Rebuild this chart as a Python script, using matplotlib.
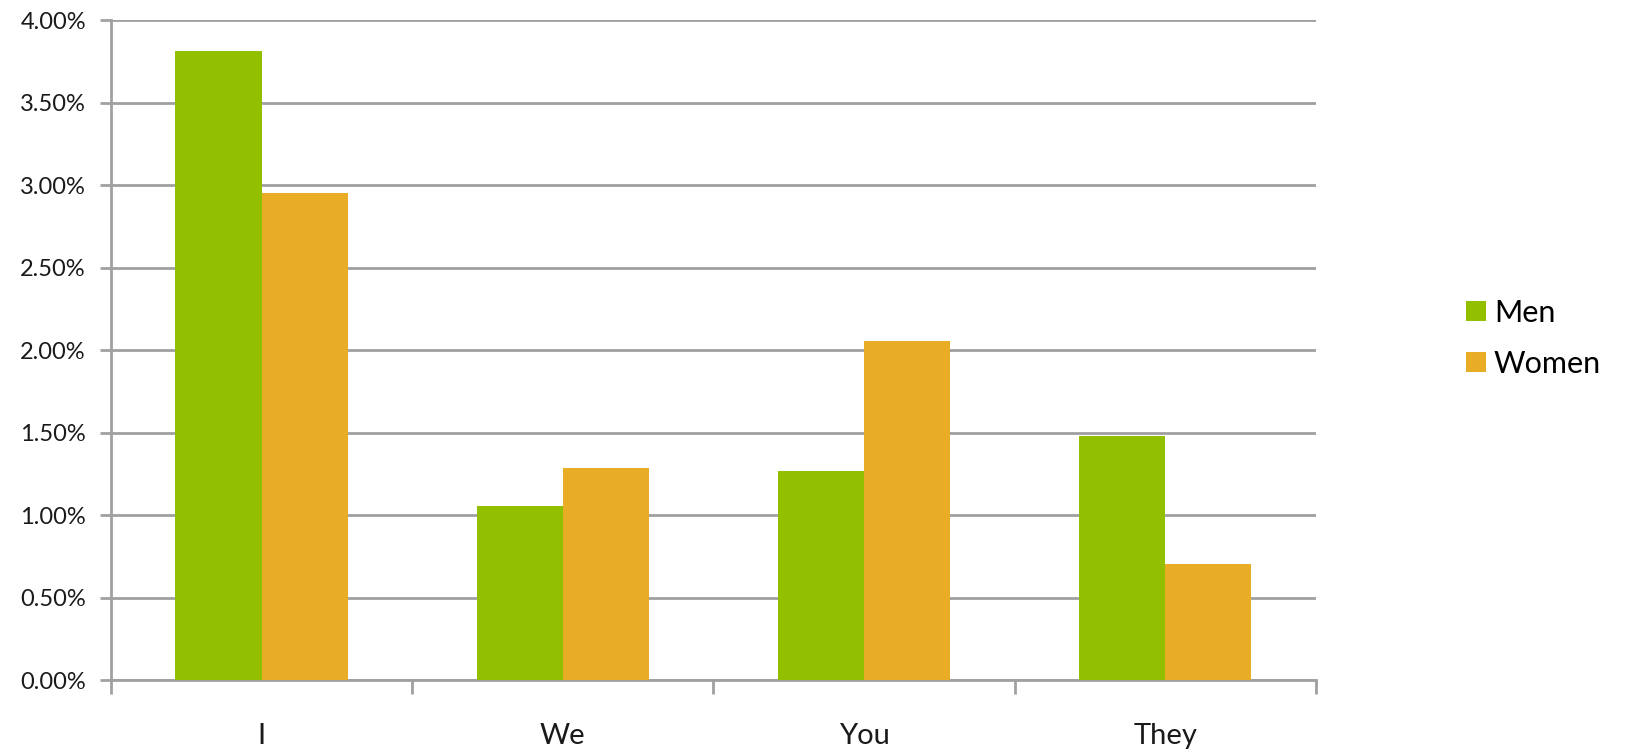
import numpy as np
import matplotlib
matplotlib.use("Agg")
import matplotlib.pyplot as plt
from matplotlib.ticker import FixedLocator

# data (percent)
pronouns = ["I", "We", "You", "They"]
men = [3.81, 1.056, 1.269, 1.481]
women = [2.95, 1.283, 2.055, 0.703]
yticks = [0, 0.5, 1.0, 1.5, 2.0, 2.5, 3.0, 3.5, 4.0]

green = "#92bf00"
orange = "#e8ad24"
grey = "#a0a0a0"

plt.rcParams['font.family'] = ['Lato', 'DejaVu Sans']

fig = plt.figure(figsize=(16.25, 7.5), dpi=100)
ax = fig.add_axes([0.0683, 0.0933, 0.7415, 0.88])

x = np.arange(len(pronouns))
w = 0.286
ax.bar(x - w/2, men, w, color=green, label="Men", zorder=3)
ax.bar(x + w/2, women, w, color=orange, label="Women", zorder=3)

ax.set_xlim(-0.5, len(pronouns) - 0.5)
ax.set_ylim(0, 4.0)
ax.set_yticks(yticks)
ax.set_yticklabels(["%.2f%%" % v for v in yticks], fontsize=17, color="#1a1a1a")
ax.yaxis.grid(True, color=grey, linewidth=2, zorder=0)

# tick marks at category boundaries, labels at centers
ax.xaxis.set_major_locator(FixedLocator(np.arange(len(pronouns) + 1) - 0.5))
ax.set_xticklabels([])
ax.xaxis.set_minor_locator(FixedLocator(x))
ax.set_xticklabels(pronouns, minor=True, fontsize=21, color="#1a1a1a")
ax.tick_params(axis="x", which="major", length=10, width=2, color=grey)
ax.tick_params(axis="x", which="minor", length=0, pad=31)
ax.tick_params(axis="y", length=8, width=2, color=grey, pad=10)

for s in ["top", "right"]:
    ax.spines[s].set_visible(False)
for s in ["left", "bottom"]:
    ax.spines[s].set_color(grey)
    ax.spines[s].set_linewidth(2)

leg = ax.legend(loc="center left", bbox_to_anchor=(1.102, 0.518), frameon=False,
                fontsize=22, handlelength=0.65, handleheight=0.65,
                handletextpad=0.25, labelspacing=0.75)

fig.savefig("out.png", dpi=100)
